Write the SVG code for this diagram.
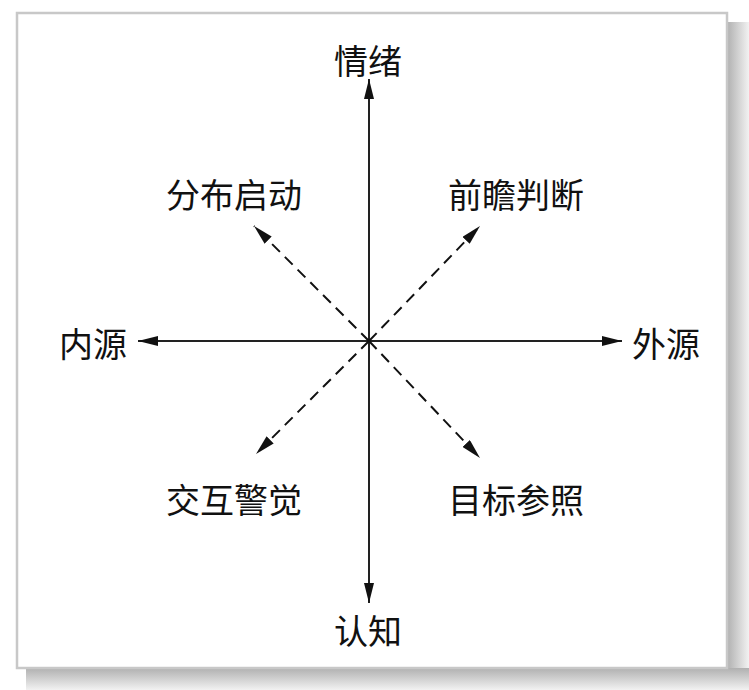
<svg xmlns="http://www.w3.org/2000/svg" width="749" height="690" viewBox="0 0 749 690">
<defs>
<linearGradient id="shR" x1="0" y1="0" x2="1" y2="0"><stop offset="0" stop-color="#b0b0b0"/><stop offset="1" stop-color="#f2f2f2"/></linearGradient>
<linearGradient id="shB" x1="0" y1="0" x2="0" y2="1"><stop offset="0" stop-color="#b0b0b0"/><stop offset="1" stop-color="#f2f2f2"/></linearGradient>
<marker id="ah" viewBox="0 0 20 10" refX="20" refY="5" markerWidth="20" markerHeight="10" markerUnits="userSpaceOnUse" orient="auto"><path d="M0,0 L20,5 L0,10 Z" fill="#111"/></marker>
</defs>
<style>
.ax{stroke:#222;stroke-width:2;fill:none}
.dg{stroke:#111;stroke-width:2;fill:none;stroke-dasharray:11,7}
text{font-family:"Noto Sans CJK SC","Noto Sans CJK JP",sans-serif;font-size:34px;fill:#111;text-anchor:middle;dominant-baseline:central}
</style>
<rect width="749" height="690" fill="#ffffff"/>
<rect x="727" y="22" width="22" height="668" fill="url(#shR)"/>
<rect x="26" y="668" width="723" height="22" fill="url(#shB)"/>
<rect x="17" y="13" width="710" height="655" fill="#ffffff" stroke="#c8c8c8" stroke-width="2.5"/>
<g id="connectors">
<line class="ax" x1="369" y1="341" x2="369" y2="79" marker-end="url(#ah)"/>
<line class="ax" x1="369" y1="341" x2="369" y2="603" marker-end="url(#ah)"/>
<line class="ax" x1="369" y1="341" x2="138" y2="341" marker-end="url(#ah)"/>
<line class="ax" x1="369" y1="341" x2="622" y2="341" marker-end="url(#ah)"/>
<line class="dg" x1="369" y1="341" x2="254" y2="226" marker-end="url(#ah)"/>
<line class="dg" x1="369" y1="341" x2="480" y2="226" marker-end="url(#ah)"/>
<line class="dg" x1="369" y1="341" x2="256" y2="454" marker-end="url(#ah)"/>
<line class="dg" x1="369" y1="341" x2="480" y2="458" marker-end="url(#ah)"/>
</g>
<g id="n-emotion"><text x="368" y="59">情绪</text></g>
<g id="n-cognition"><text x="368" y="629">认知</text></g>
<g id="n-internal"><text x="93" y="342">内源</text></g>
<g id="n-external"><text x="666" y="342">外源</text></g>
<g id="n-distributed"><text x="234" y="193">分布启动</text></g>
<g id="n-prospective"><text x="516" y="193">前瞻判断</text></g>
<g id="n-interactive"><text x="234" y="498">交互警觉</text></g>
<g id="n-target"><text x="516" y="498">目标参照</text></g>
</svg>
